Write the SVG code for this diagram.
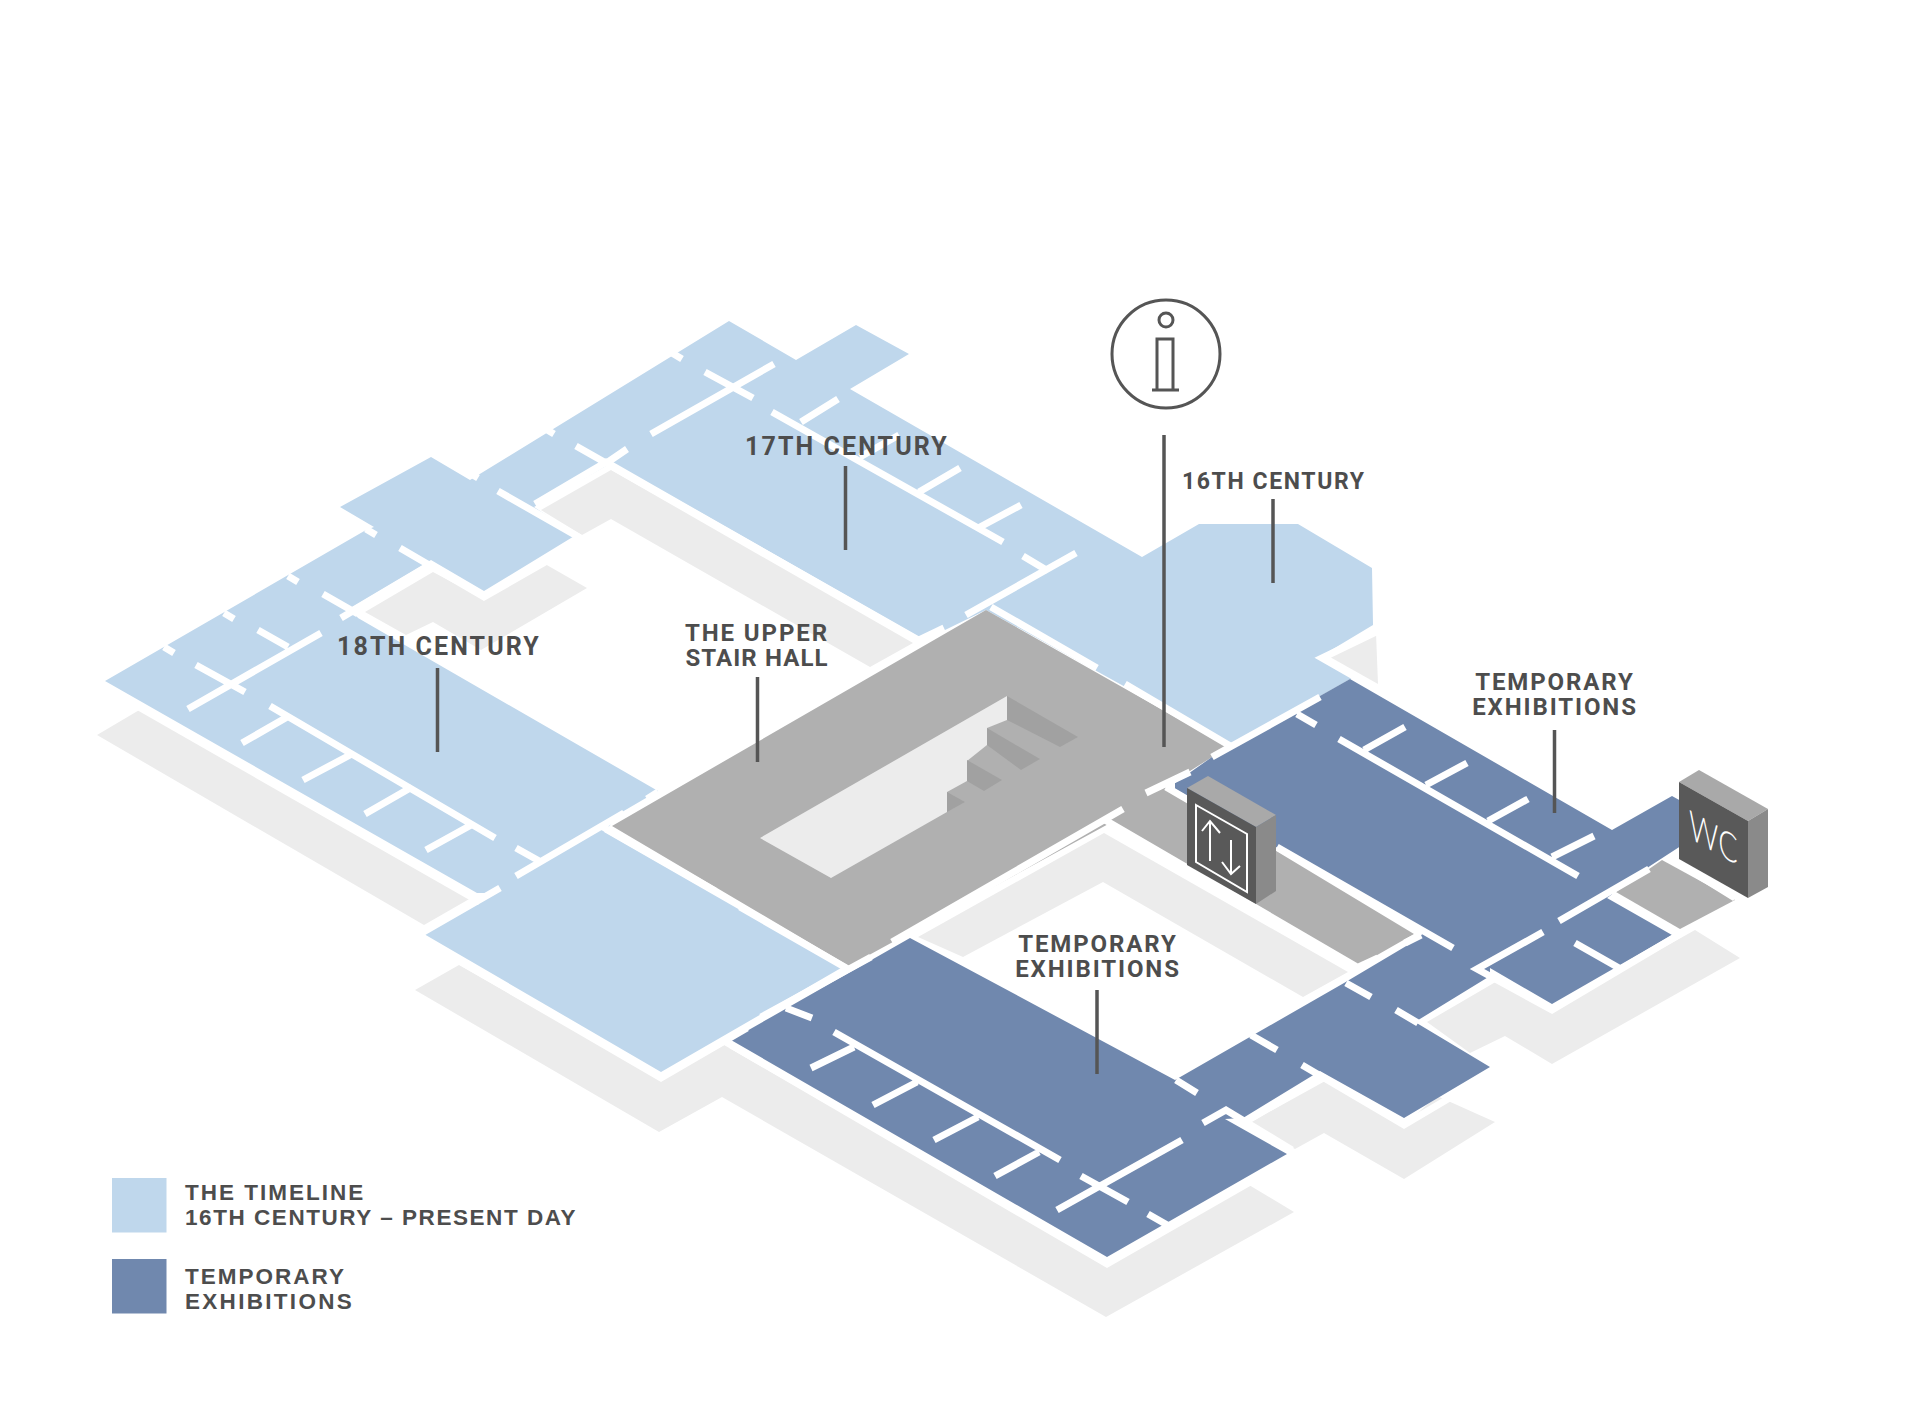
<svg xmlns="http://www.w3.org/2000/svg" width="1920" height="1407" viewBox="0 0 1920 1407">
<style>
.sh{fill:#ececec}.lb{fill:#bfd7ec}.db{fill:#7088ae}.gr{fill:#b0b0b0}.st{fill:#a1a1a1}
.w{stroke:#fff;stroke-width:7;fill:none;stroke-linejoin:miter}
.l{stroke:#555;stroke-width:3.5;fill:none}
text{font-family:"Roboto","Liberation Sans",sans-serif;font-weight:700;font-size:24px;letter-spacing:1.9px;fill:#4d4d4d}
.c{text-anchor:middle}
.big{font-size:25px;letter-spacing:2.1px}
.sm{font-size:23px;letter-spacing:1.6px}
.lg{font-family:"Liberation Sans",sans-serif;font-size:22.5px;letter-spacing:2px}
.tw{stroke:#fff;stroke-width:2;fill:none}
.ic{stroke:#555;stroke-width:3;fill:none}
</style>
<rect width="1920" height="1407" fill="#fff"/>
<g id="shadows">
<polygon class="sh" points="97,735 141,709 471,898 424,925"/>
<polygon class="sh" points="415,990 459,965 661,1080 724,1045 1107,1265 1249,1185 1294,1212 1106,1317 722,1097 659,1132"/>
<polygon class="sh" points="611,470 913,643 870,667 611,519 582,535 541,510"/>
<polygon class="sh" points="433,572 484,599 545,564 587,588 481,650 433,622 406,635 365,612"/>
<polygon class="sh" points="918,937 1104,833 1348,972 1303,997 1103,882 963,957"/>
<polygon class="sh" points="1427,1022 1499,980 1552,1010 1695,930 1740,958 1552,1064 1505,1036 1470,1053"/>
<polygon class="sh" points="1249,1123 1327,1080 1404,1125 1437,1096 1495,1122 1404,1179 1324,1133 1295,1149"/>
<polygon class="sh" points="1330,657 1376,633 1378,684"/>
</g>
<g id="timeline-floor">
<polygon class="lb" points="105,681 366,530 374,527 340,507 431,457 470,480 729,321 796,360 856,325 909,354 850,389 1142,557 1199,524 1298,524 1372,568 1373,625 1318,658 1352,678 1232,746 986,610 945,630 919,637 613,462 534,507 576,535 484,591 431,560 350,608 358,618 658,791 622,812 604,832 841,968 661,1072 424,934 497,893 477,893"/>
</g>
<g id="stair-hall">
<polygon class="gr" points="612,826 986,610 1228,747 1190,771 1168,786 1414,934 1358,966 1112,822 849,966"/>
<polygon class="sh" points="760,838 1007,696 1007,720 987,728 987,745 967,761 967,781 947,792 947,812 831,878"/>
<polygon class="st" points="1007,696 1078,737 1060,747 1007,720"/>
<polygon class="st" points="987,728 1040,759 1021,770 987,745"/>
<polygon class="st" points="967,760 1002,780 984,791 967,781"/>
<polygon class="st" points="947,792 965,802 947,812"/>
<polygon class="gr" points="1616,892 1662,860 1735,900 1680,929"/>
</g>
<g id="temporary-floor">
<polygon class="db" points="1350,679 1612,830 1672,796 1690,806 1690,840 1650,866 1607,898 1672,935 1552,1004 1490,968 1490,976 1415,1022 1490,1067 1404,1118 1320,1071 1243,1118 1225,1119 1287,1154 1107,1257 731,1040 910,938 1175,1080 1344,983 1418,939 1424,932 1175,789 1175,783 1212,757"/>
</g>
<g id="walls" class="w">
<path d="M164,647l10,6M224,613l10,6M288,576l10,6M366,529l10,6M468,472l10,6M544,428l10,6M672,353l10,6M647,799L658,792"/>
<path d="M651,434L774,364M705,372L753,398M576,446L922,642M608,462L627,449M608,461L535,504M498,491L582,539M400,548L484,597L575,545M430,565L341,618M323,594L358,614"/>
<path d="M258,630L288,647M321,633L188,709M196,665L245,692M270,706L495,838M242,743L289,716M303,780L350,755M365,814L412,787M426,850L473,824"/>
<path d="M516,848L541,862M516,876L624,813M500,888L420,934M102,686L480,902M420,938L661,1078L747,1028M603,827L715,891M740,907L848,969M761,1017L871,957M892,942L1123,809M786,1008L812,1018"/>
<path d="M731,1045L1107,1264L1292,1158M1148,1214L1169,1226M834,1032L1060,1160M854,1047L811,1068M917,1082L873,1105M978,1117L934,1140M1039,1152L995,1176"/>
<path d="M1182,1140L1057,1210M1081,1176L1128,1202M1203,1123L1226,1110L1292,1150M1176,1080L1197,1093M1251,1035L1277,1050M1302,1065L1404,1125L1490,1074M1245,1122L1319,1079"/>
<path d="M1105,820L1357,967M1350,971L1378,958M1346,983L1371,997M1396,1010L1418,1023M1277,847L1453,948M1146,793L1190,772M1166,787L1190,801M1405,943L1421,935"/>
<path d="M1212,757L1320,697M1297,714L1316,725M1339,739L1578,876M1364,750L1405,727M1426,785L1467,763M1488,821L1528,799M1552,857L1594,836"/>
<path d="M1559,921L1649,869M1543,932L1477,969L1552,1010L1680,934M1612,895L1676,932M1672,859L1735,898M1575,943L1619,968"/>
<path d="M1378,631L1322,658L1378,690M991,607L1097,668M1125,684L1232,747M966,615L1076,553M1023,556L1048,571M919,640L944,628M772,412L1003,542M801,422L838,399M860,457L899,435M919,492L960,468M980,527L1021,505"/>
</g>
<g id="lift">
<polygon fill="#a9a9a9" points="1187,788 1208,776 1276,815 1256,827"/>
<polygon fill="#595959" points="1187,788 1256,827 1256,904 1187,865"/>
<polygon fill="#8a8a8a" points="1256,827 1276,815 1276,891 1256,904"/>
<polygon class="tw" points="1196,805 1247,834 1247,892 1196,862"/>
<path class="tw" d="M1210,822V861M1202,831L1210,821L1220,833M1231,840V874M1222,862L1231,874L1240,866"/>
</g>
<g id="wc">
<polygon fill="#a9a9a9" points="1679,782 1699,770 1768,809 1748,821"/>
<polygon fill="#595959" points="1679,782 1748,821 1748,898 1679,859"/>
<polygon fill="#8a8a8a" points="1748,821 1768,809 1768,887 1748,898"/>
<text transform="matrix(.72 .407 0 1 1689 838)" style="font-family:Lato,sans-serif;font-weight:300;font-size:40px;letter-spacing:0;fill:#fff">WC</text>
</g>
<g id="connectors" class="l">
<path d="M437.5,668V752M845.5,466V550M1164,435V747M757.5,677V762M1273,499V583M1554.5,730V813M1097,990V1074"/>
</g>
<g id="info">
<circle class="ic" cx="1166" cy="354" r="54"/>
<circle class="ic" cx="1166" cy="320" r="7"/>
<path class="ic" d="M1157,339H1173V390H1157ZM1152,390H1179"/>
</g>
<g id="labels">
<text class="big" x="337" y="655">18TH CENTURY</text>
<text class="big" x="745" y="455">17TH CENTURY</text>
<text class="sm" x="1182" y="489">16TH CENTURY</text>
<text class="c" x="757" y="641">THE UPPER</text>
<text class="c" x="757" y="666" style="letter-spacing:1.1px">STAIR HALL</text>
<text class="c" x="1555" y="690">TEMPORARY</text>
<text class="c" x="1555" y="715">EXHIBITIONS</text>
<text class="c" x="1098" y="952">TEMPORARY</text>
<text class="c" x="1098" y="977">EXHIBITIONS</text>
</g>
<g id="legend">
<rect class="lb" x="112" y="1178" width="54.5" height="54.5"/>
<rect class="db" x="112" y="1259" width="54.5" height="54.5"/>
<text class="lg" x="185" y="1200">THE TIMELINE</text>
<text class="lg" x="185" y="1225" style="letter-spacing:1.55px">16TH CENTURY – PRESENT DAY</text>
<text class="lg" x="185" y="1284">TEMPORARY</text>
<text class="lg" x="185" y="1309" style="letter-spacing:2.3px">EXHIBITIONS</text>
</g>
</svg>
